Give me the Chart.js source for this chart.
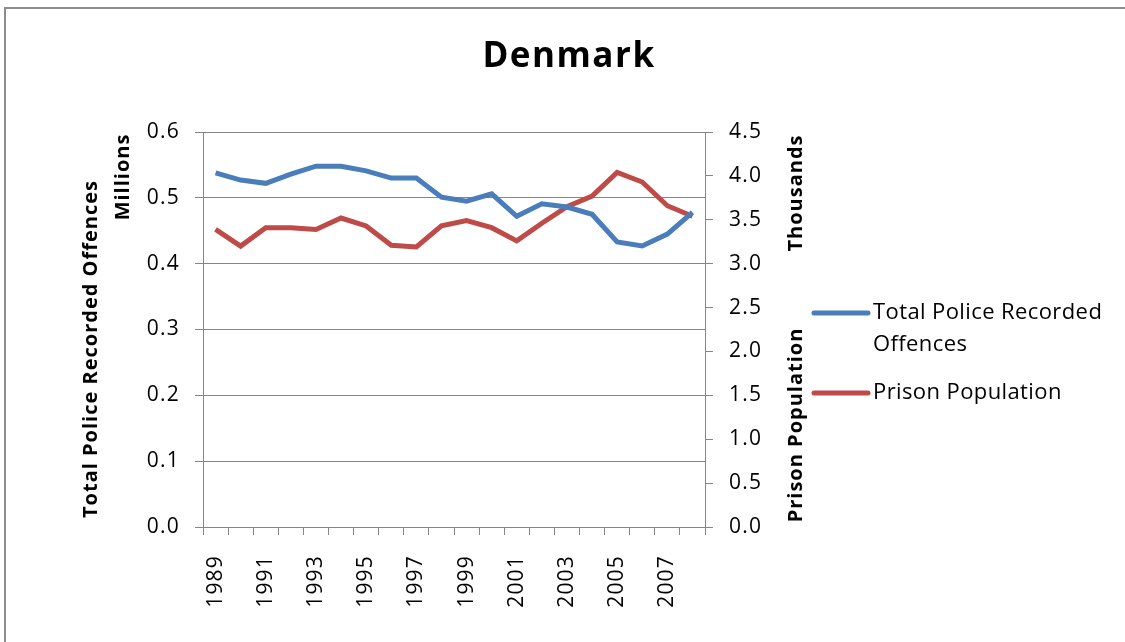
<!DOCTYPE html>
<html>
<head>
<meta charset="utf-8">
<script src="https://cdn.jsdelivr.net/npm/chart.js@4.4.1/dist/chart.umd.min.js"></script>
<style>
	html, body { margin: 0; padding: 0; background: #fff; }
	#wrap { position: relative; width: 1125px; height: 642px; overflow: hidden; }
	#frame { position: absolute; left: 4px; top: 7px; width: 1140px; height: 660px; border: 2px solid #8c8c8c; box-sizing: border-box; }
	#wrap canvas { position: absolute; left: 0; top: 0; }
</style>
</head>
<body>
<div id="wrap">
	<div id="frame"></div>
	<canvas id="chart" width="1125" height="642"></canvas>
</div>
<script>
// years on the category axis
var years = ["1989", "1990", "1991", "1992", "1993", "1994", "1995", "1996", "1997", "1998",
	"1999", "2000", "2001", "2002", "2003", "2004", "2005", "2006", "2007", "2008"];

// total police recorded offences, millions (left axis)
var offences = [0.538, 0.527, 0.522, 0.536, 0.548, 0.548, 0.541, 0.530, 0.530, 0.501,
	0.495, 0.506, 0.472, 0.491, 0.486, 0.475, 0.433, 0.427, 0.445, 0.478];

// prison population, thousands (right axis)
var prison = [3.39, 3.20, 3.41, 3.41, 3.39, 3.52, 3.43, 3.21, 3.19, 3.43,
	3.49, 3.41, 3.26, 3.46, 3.65, 3.77, 4.04, 3.93, 3.66, 3.54];

var seriesNames = ["Total Police Recorded Offences", "Prison Population"];
var legendLines = [["Total Police Recorded", "Offences"], ["Prison Population"]];
var seriesColors = ["#4a7ebb", "#be4b48"];

var FONT = "'Open Sans', 'Liberation Sans', sans-serif";
var GRID = "#868686";

// the reference text is loosely spaced, widen tick labels a bit
var spacingPlugin = {
	id: "spacingPlugin",
	beforeLayout: function(chart) { chart.ctx.letterSpacing = "1.2px"; },
	beforeDraw: function(chart) { chart.ctx.letterSpacing = "1.2px"; }
};

// draw title, axis titles, unit labels and legend
var textPlugin = {
	id: "textPlugin",
	afterDraw: function(chart) {
		var ctx = chart.ctx;
		ctx.save();
		ctx.fillStyle = "#000";
		ctx.textAlign = "center";
		ctx.textBaseline = "middle";

		ctx.letterSpacing = "1.5px";
		ctx.font = "bold 35px " + FONT;
		ctx.fillText("Denmark", 569, 57);

		ctx.letterSpacing = "1px";
		ctx.font = "bold 20px " + FONT;
		var vt = function(txt, x, y) {
			ctx.save();
			ctx.translate(x, y);
			ctx.rotate(-Math.PI / 2);
			ctx.fillText(txt, 0, 0);
			ctx.restore();
		};
		vt("Total Police Recorded Offences", 91, 349);
		vt("Millions", 123, 177);
		vt("Thousands", 796, 193);
		vt("Prison Population", 796, 425);

		// legend
		ctx.textAlign = "left";
		ctx.letterSpacing = "0.4px";
		ctx.font = "22px " + FONT;
		var ly = [313, 393];
		for (var i = 0; i < legendLines.length; i++) {
			ctx.strokeStyle = seriesColors[i];
			ctx.lineWidth = 5;
			ctx.lineCap = "round";
			ctx.beginPath();
			ctx.moveTo(814, ly[i]);
			ctx.lineTo(868, ly[i]);
			ctx.stroke();
			for (var j = 0; j < legendLines[i].length; j++) {
				ctx.fillText(legendLines[i][j], 873, ly[i] + j * 32);
			}
		}
		ctx.restore();
	}
};

var ctx = document.getElementById("chart").getContext("2d");
new Chart(ctx, {
	type: "line",
	data: {
		labels: years,
		datasets: [{
			label: seriesNames[0],
			data: offences,
			yAxisID: "y",
			borderColor: seriesColors[0],
			backgroundColor: seriesColors[0],
			borderWidth: 5,
			pointRadius: 0,
			tension: 0
		}, {
			label: seriesNames[1],
			data: prison,
			yAxisID: "y1",
			borderColor: seriesColors[1],
			backgroundColor: seriesColors[1],
			borderWidth: 5,
			pointRadius: 0,
			tension: 0
		}]
	},
	options: {
		responsive: false,
		animation: false,
		layout: { padding: { top: 132, bottom: 0, left: 0, right: 0 } },
		plugins: {
			legend: { display: false },
			title: { display: false },
			tooltip: { enabled: false }
		},
		scales: {
			x: {
				offset: true,
				grid: { offset: true, drawOnChartArea: false, color: GRID, tickLength: 8 },
				border: { color: GRID, width: 1 },
				ticks: {
					autoSkip: false,
					minRotation: 90,
					maxRotation: 90,
					padding: 20,
					color: "#000",
					font: { family: FONT, size: 21 },
					callback: function(v, i) { return i % 2 === 0 ? years[i] : ""; }
				},
				afterFit: function(s) { s.height = 115; }
			},
			y: {
				position: "left",
				min: 0,
				max: 0.6,
				grid: { color: GRID, lineWidth: 1, tickLength: 8 },
				border: { color: GRID, width: 1 },
				ticks: {
					stepSize: 0.1,
					padding: 15,
					color: "#000",
					font: { family: FONT, size: 21 },
					callback: function(v) { return v.toFixed(1); }
				},
				afterFit: function(s) { s.width = 203; }
			},
			y1: {
				position: "right",
				min: 0,
				max: 4.5,
				grid: { drawOnChartArea: false, color: GRID, tickLength: 8 },
				border: { color: GRID, width: 1 },
				ticks: {
					stepSize: 0.5,
					padding: 16,
					color: "#000",
					font: { family: FONT, size: 21 },
					callback: function(v) { return v.toFixed(1); }
				},
				afterFit: function(s) { s.width = 420; }
			}
		}
	},
	plugins: [spacingPlugin, textPlugin]
});
</script>
</body>
</html>
